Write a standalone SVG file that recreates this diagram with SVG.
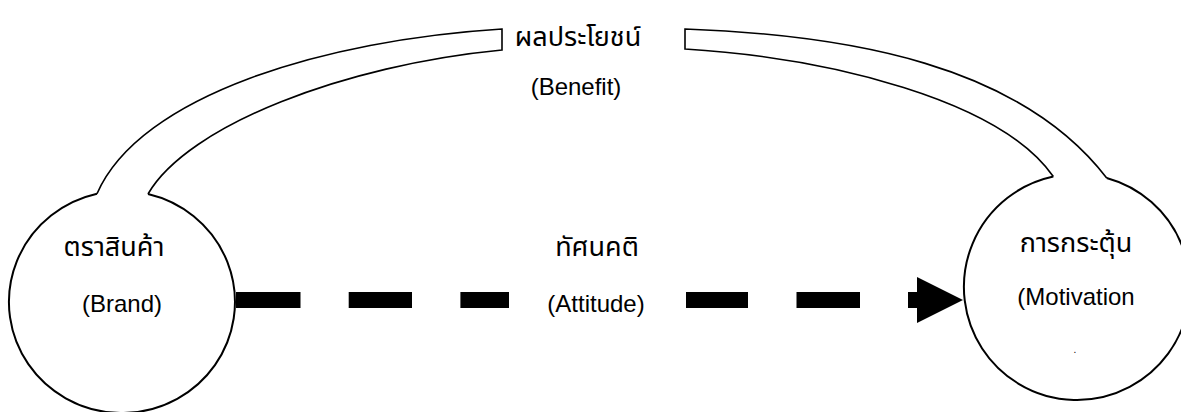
<svg xmlns="http://www.w3.org/2000/svg" width="1181" height="412" viewBox="0 0 1181 412">
  <style>
    .node { fill: #ffffff; stroke: #000000; stroke-width: 2; }
    .band { fill: none; stroke: #000000; stroke-width: 1.6; stroke-linejoin: miter; }
    .dash { fill: none; stroke: #000000; stroke-width: 16; }
    .th { font-family: "Liberation Sans", "Noto Sans Thai", "Noto Sans", sans-serif; font-size: 27px; fill: #000000; text-anchor: middle; }
    .en { font-family: "Liberation Sans", Arial, sans-serif; font-size: 24px; fill: #000000; text-anchor: middle; }
  </style>
  <defs>
    <marker id="arrow" markerUnits="userSpaceOnUse" viewBox="0 0 46 46" refX="0" refY="23" markerWidth="46" markerHeight="46" orient="auto">
      <path d="M0,0 L46,23 L0,46 Z" fill="#000000"/>
    </marker>
  </defs>
  <rect width="1181" height="412" fill="#ffffff"/>

  <g id="node-brand">
    <path class="node" d="M97,193.75 A113,111 0 1 0 148,194"/>
    <text class="th" x="114" y="256">ตราสินค้า</text>
    <text class="en" x="122" y="312">(Brand)</text>
  </g>

  <g id="node-motivation">
    <path class="node" d="M1053.3,176.5 A113,113 0 1 0 1106.7,178"/>
    <text class="th" x="1076" y="252">การกระตุ้น</text>
    <text class="en" x="1076" y="305">(Motivation</text>
    <text class="en" x="1075" y="353" style="font-size:10px">.</text>
  </g>

  <g id="connectors">
    <g id="benefit-band">
      <path class="band" d="M97,193.75 C140,95 325,40 502,29 L502,50 C345,65 188,125 148,194"/>
      <path class="band" d="M1106.7,178 C1020,65 850,35 685,29 L685,49 C830,58 1000,100 1053.3,176.5"/>
      <text class="th" x="578" y="46">ผลประโยชน์</text>
      <text class="en" x="576" y="95">(Benefit)</text>
    </g>
    <g id="attitude-arrow">
      <path class="dash" d="M236,300 H300.5 M348.7,300 H412 M460.4,300 H509 M686,300 H748 M796.5,300 H860 M908,300 H917" marker-end="url(#arrow)"/>
      <text class="th" x="597" y="256">ทัศนคติ</text>
      <text class="en" x="596" y="312">(Attitude)</text>
    </g>
  </g>
</svg>
